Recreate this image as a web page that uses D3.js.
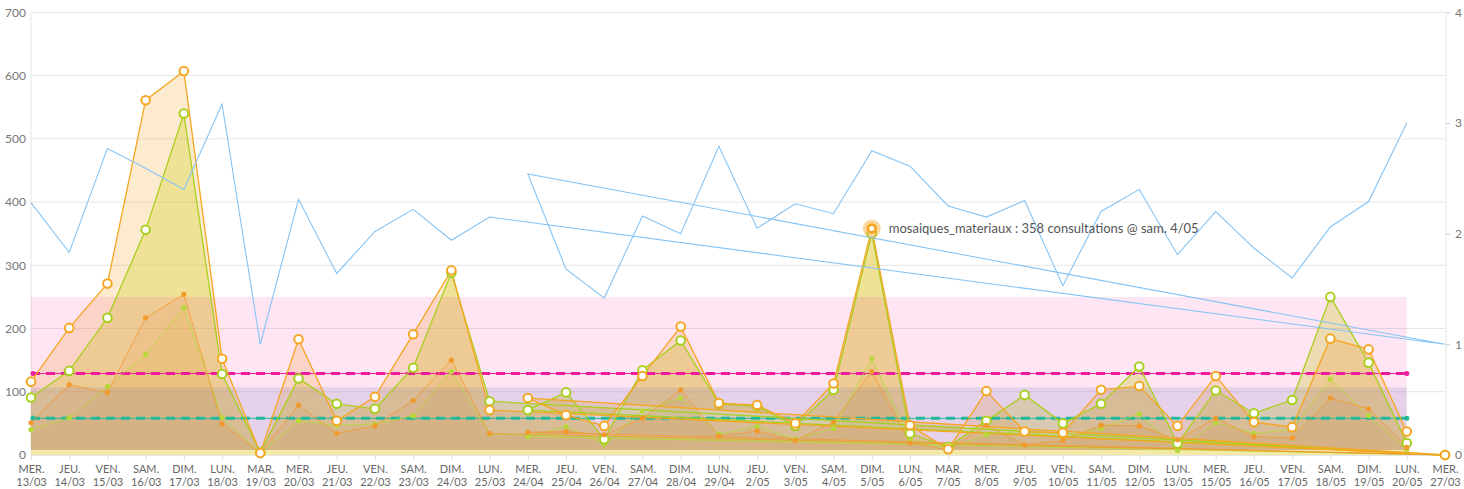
<!DOCTYPE html>
<html>
<head>
<meta charset="utf-8">
<script src="https://cdn.jsdelivr.net/npm/d3@7"></script>
<style>
  body { margin: 0; background: #fff; }
  text { font-family: Lato, "Open Sans", sans-serif; }
</style>
</head>
<body>
<script>
// categories on the x axis, in the order the axis shows them
var categories = ["MER. 13/03","JEU. 14/03","VEN. 15/03","SAM. 16/03","DIM. 17/03","LUN. 18/03","MAR. 19/03",
  "MER. 20/03","JEU. 21/03","VEN. 22/03","SAM. 23/03","DIM. 24/03","LUN. 25/03","MER. 24/04","JEU. 25/04",
  "VEN. 26/04","SAM. 27/04","DIM. 28/04","LUN. 29/04","JEU. 2/05","VEN. 3/05","SAM. 4/05","DIM. 5/05",
  "LUN. 6/05","MAR. 7/05","MER. 8/05","JEU. 9/05","VEN. 10/05","SAM. 11/05","DIM. 12/05","LUN. 13/05",
  "MER. 15/05","JEU. 16/05","VEN. 17/05","SAM. 18/05","DIM. 19/05","LUN. 20/05","MER. 27/03"];

// points in date order (27/03 sits between 25/03 and 24/04)
var dates = ["MER. 13/03","JEU. 14/03","VEN. 15/03","SAM. 16/03","DIM. 17/03","LUN. 18/03","MAR. 19/03",
  "MER. 20/03","JEU. 21/03","VEN. 22/03","SAM. 23/03","DIM. 24/03","LUN. 25/03","MER. 27/03","MER. 24/04","JEU. 25/04",
  "VEN. 26/04","SAM. 27/04","DIM. 28/04","LUN. 29/04","JEU. 2/05","VEN. 3/05","SAM. 4/05","DIM. 5/05",
  "LUN. 6/05","MAR. 7/05","MER. 8/05","JEU. 9/05","VEN. 10/05","SAM. 11/05","DIM. 12/05","LUN. 13/05",
  "MER. 15/05","JEU. 16/05","VEN. 17/05","SAM. 18/05","DIM. 19/05","LUN. 20/05"];

var orangeBig = [116,201,271,561,607,152,3,183,54,92,191,292,71,0,90,63,46,125,203,82,79,50,113,358,
  47,9,101,37,35,103,109,46,125,52,44,184,167,37];
var greenBig = [91,133,217,356,540,128,4,121,81,73,138,288,85,0,71,99,25,134,181,81,77,46,103,350,
  34,13,54,95,50,81,140,18,102,66,87,250,146,19];
var orangeSmall = [51,111,99,217,254,49,3,79,34,46,86,150,34,0,36,37,32,58,103,30,38,23,52,132,
  19,8,47,16,23,47,46,24,58,29,27,90,73,12];
var greenSmall = [40,59,108,159,233,59,3,54,47,49,62,132,33,0,29,45,17,70,90,33,45,25,42,152,
  25,10,32,38,26,42,65,7,51,34,40,120,62,8];
// right axis series
var blueLine = [2.28,1.83,2.77,2.59,2.40,3.17,1.00,2.31,1.64,2.02,2.22,1.94,2.15,1.00,2.54,1.68,1.42,2.16,
  2.00,2.79,2.05,2.27,2.18,2.75,2.61,2.25,2.15,2.30,1.53,2.20,2.40,1.81,2.20,1.87,1.60,2.06,2.29,3.00];

var leftTicks = [0,100,200,300,400,500,600,700];
var rightTicks = [0,1,2,3,4];
var bands = [{lo:0, hi:250, c:"rgba(240,0,140,0.10)"}, {lo:8, hi:107, c:"rgba(60,70,170,0.12)"}, {lo:0, hi:8, c:"rgba(244,238,172,0.9)"}];
var refLines = [{v:129, c:"#ec1c9c"}, {v:58, c:"#22b89c"}];
var tip = {date:"DIM. 5/05", value:358, text:"mosaiques_materiaux : 358 consultations @ sam. 4/05"};

var w = 1464, h = 489;
var plotLeft = 31, plotRight = 1446, plotTop = 12.3, plotBottom = 455;

var svg = d3.select("body").append("svg").attr("width", w).attr("height", h);

var xScale = d3.scalePoint().domain(categories).range([31, 1445]);
var yScale = d3.scaleLinear().domain([0, 700]).range([plotBottom, plotTop]);
var y2Scale = d3.scaleLinear().domain([0, 4]).range([plotBottom, plotTop]);

/*** grid ***/
svg.append("g").selectAll("line").data(leftTicks).join("line")
   .attr("x1", plotLeft).attr("x2", plotRight)
   .attr("y1", d => yScale(d)).attr("y2", d => yScale(d))
   .attr("stroke", "#e6e6e6").attr("stroke-width", 1);
svg.append("line").attr("x1", plotLeft).attr("x2", plotLeft).attr("y1", plotTop).attr("y2", plotBottom).attr("stroke", "#e6e6e6");
svg.append("line").attr("x1", plotRight).attr("x2", plotRight).attr("y1", plotTop).attr("y2", plotBottom).attr("stroke", "#e6e6e6");

/*** axes ***/
var yAxis = d3.axisLeft(yScale).tickValues(leftTicks).tickSize(0).tickPadding(5);
var gy = svg.append("g").attr("transform", "translate(" + plotLeft + ",0)").call(yAxis);
gy.select(".domain").remove();
gy.selectAll("text").attr("fill", "#777").style("font-size", "12px");

var y2Axis = d3.axisRight(y2Scale).tickValues(rightTicks).tickFormat(d3.format("d")).tickSize(4).tickPadding(5);
var gy2 = svg.append("g").attr("transform", "translate(" + plotRight + ",0)").call(y2Axis);
gy2.select(".domain").remove();
gy2.selectAll("line").attr("stroke", "#ccc");
gy2.selectAll("text").attr("fill", "#777").style("font-size", "12px");

var xAxis = d3.axisBottom(xScale).tickSize(5).tickFormat("");
var gx = svg.append("g").attr("transform", "translate(0," + plotBottom + ")").call(xAxis);
gx.select(".domain").attr("stroke", "#e6e6e6");
gx.selectAll("line").attr("stroke", "#ddd");
gx.selectAll(".tick").append("text")
   .attr("fill", "#666").attr("text-anchor", "middle").style("font-size", "11px")
   .each(function(d) {
     var parts = d.split(" ");
     var t = d3.select(this);
     t.append("tspan").attr("x", 0).attr("y", 18).text(parts[0]);
     t.append("tspan").attr("x", 0).attr("y", 31).text(parts[1]);
   });

/*** areas ***/
var series = [
  {vals: greenSmall, stroke:"#b8d83a", fill:"rgba(190,215,40,0.12)", big:false},
  {vals: greenBig, stroke:"#a9cf1e", fill:"rgba(200,220,20,0.30)", big:true},
  {vals: orangeSmall, stroke:"#f2992e", fill:"rgba(240,150,40,0.10)", big:false},
  {vals: orangeBig, stroke:"#f5a623", fill:"rgba(245,166,35,0.22)", big:true}
];
var area = d3.area().x((d, i) => xScale(dates[i])).y0(yScale(0)).y1(d => yScale(d));
var line = d3.line().x((d, i) => xScale(dates[i])).y(d => yScale(d));

series.forEach(function(s) {
  svg.append("path").attr("d", area(s.vals)).attr("fill", s.fill).attr("stroke", "none");
});

/*** bands ***/
var bandEnd = xScale("LUN. 20/05");
bands.forEach(function(b) {
  svg.append("rect").attr("x", plotLeft).attr("width", bandEnd - plotLeft)
     .attr("y", yScale(b.hi)).attr("height", yScale(b.lo) - yScale(b.hi))
     .attr("fill", b.c);
});

/*** reference lines ***/
refLines.forEach(function(r) {
  var y = yScale(r.v);
  svg.append("line").attr("x1", plotLeft).attr("x2", bandEnd).attr("y1", y).attr("y2", y)
     .attr("stroke", r.c).attr("stroke-width", 1);
  svg.append("line").attr("x1", plotLeft).attr("x2", bandEnd).attr("y1", y).attr("y2", y)
     .attr("stroke", r.c).attr("stroke-width", 3).attr("stroke-dasharray", "9,6");
  svg.append("circle").attr("cx", plotLeft + 2).attr("cy", y).attr("r", 2.5).attr("fill", r.c);
  svg.append("circle").attr("cx", bandEnd).attr("cy", y).attr("r", 2.5).attr("fill", r.c);
});

/*** lines + markers ***/
series.forEach(function(s) {
  svg.append("path").attr("d", line(s.vals)).attr("fill", "none")
     .attr("stroke", s.stroke).attr("stroke-width", s.big ? 1.3 : 1).attr("opacity", s.big ? 1 : 0.8);
});
series.forEach(function(s) {
  var g = svg.append("g");
  g.selectAll("circle").data(s.vals).join("circle")
   .attr("cx", (d, i) => xScale(dates[i])).attr("cy", d => yScale(d))
   .attr("r", s.big ? 4.3 : 2.6)
   .attr("fill", s.big ? "#fff" : s.stroke)
   .attr("stroke", s.big ? s.stroke : "none").attr("stroke-width", 2);
});

var line2 = d3.line().x((d, i) => xScale(dates[i])).y(d => y2Scale(d));
svg.append("path").attr("d", line2(blueLine)).attr("fill", "none")
   .attr("stroke", "#85c4f5").attr("stroke-width", 1.1);

/*** hover tooltip ***/
var tx = xScale(tip.date), ty = yScale(tip.value);
svg.append("circle").attr("cx", tx).attr("cy", ty).attr("r", 9).attr("fill", "rgba(245,166,35,0.45)");
svg.append("circle").attr("cx", tx).attr("cy", ty).attr("r", 3.5).attr("fill", "#fff")
   .attr("stroke", "#f5a623").attr("stroke-width", 2);
svg.append("text").attr("x", tx + 17).attr("y", ty + 4.5).attr("fill", "#555")
   .style("font-size", "13px").text(tip.text);
</script>
</body>
</html>
